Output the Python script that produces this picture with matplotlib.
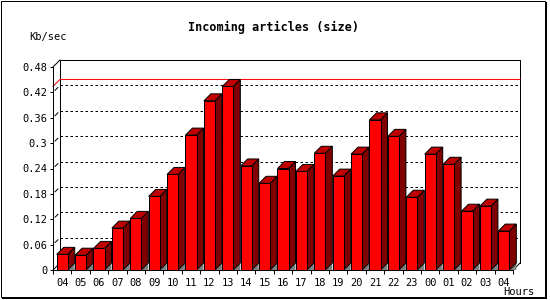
import numpy as np
import matplotlib
matplotlib.use("Agg")
import matplotlib.pyplot as plt
from matplotlib.patches import Polygon, Rectangle

# data
hours = ["04", "05", "06", "07", "08", "09", "10", "11", "12", "13", "14", "15",
         "16", "17", "18", "19", "20", "21", "22", "23", "00", "01", "02", "03", "04"]
kb_sec = [0.037, 0.035, 0.051, 0.099, 0.122, 0.174, 0.226, 0.319, 0.400, 0.434,
          0.246, 0.205, 0.240, 0.233, 0.276, 0.222, 0.274, 0.355, 0.316, 0.172,
          0.274, 0.250, 0.139, 0.151, 0.092]
y_ticks = [0, 0.06, 0.12, 0.18, 0.24, 0.30, 0.36, 0.42, 0.48]
y_tick_labels = ["0", "0.06", "0.12", "0.18", "0.24", "0.3", "0.36", "0.42", "0.48"]

W, H = 550, 300
px = 0.72  # one pixel in points at 100 dpi
mono = "DejaVu Sans Mono"
plt.rcParams["font.family"] = [mono]

fig = plt.figure(figsize=(5.5, 3), dpi=100)

# outer frame with a drop shadow
fig.patches.append(Rectangle((2 / W, 1 / H), 545 / W, 297 / H, transform=fig.transFigure,
                             facecolor="black", edgecolor="none", zorder=-2))
fig.patches.append(Rectangle((0.5 / W, 3.5 / H), 544 / W, 296 / H, transform=fig.transFigure,
                             facecolor="white", edgecolor="black", lw=px, zorder=-1))

ax = fig.add_axes([53 / W, 30 / H, 460 / W, 203 / H])
ax.set_zorder(2)
ax.patch.set_alpha(0)
n = len(hours)
x0, x1 = -0.5, n - 0.5
ymax = y_ticks[-1]
ax.set_xlim(x0, x1)
ax.set_ylim(0, ymax)

# 3d depth: 7 px right and up, in data units
dx = 7 / 460 * n
dy = 7 / 203 * ymax

# back wall
ax.plot([x0 + dx, x0 + dx, x1 + dx, x1 + dx], [dy, ymax + dy, ymax + dy, dy],
        color="black", lw=px, clip_on=False, zorder=1)
ax.plot([x0, x0 + dx], [ymax, ymax + dy], color="black", lw=px, clip_on=False, zorder=1)
ax.plot([x1, x1 + dx], [0, dy], color="black", lw=px, clip_on=False, zorder=1)
ax.plot([x0, x0 + dx], [0, dy], color="black", lw=px, clip_on=False, zorder=1)
for v in y_ticks[1:-1]:
    ax.plot([x0 + dx, x1 + dx], [v + dy, v + dy], color="black", lw=px,
            dashes=(2.5, 2.5), clip_on=False, zorder=1)
    ax.plot([x0 + dx * 0.3, x0 + dx * 0.7], [v + dy * 0.3, v + dy * 0.7],
            color="black", lw=px, clip_on=False, zorder=1)

# max line
peak = max(kb_sec)
ax.plot([x0, x0 + dx, x1 + dx], [peak, peak + dy, peak + dy], color="red", lw=px,
        clip_on=False, zorder=1.5)

# bars
bw = 0.6
xs = np.arange(n)
for i, v in zip(xs, kb_sec):
    r = i + bw / 2
    l = i - bw / 2
    ax.add_patch(Polygon([(r, 0), (r + dx, dy), (r + dx, 0)], closed=True,
                         facecolor="#808080", edgecolor="none", zorder=2, clip_on=False))
    ax.add_patch(Polygon([(r, 0), (r + dx, dy), (r + dx, v + dy), (r, v)], closed=True,
                         facecolor="#800000", edgecolor="black", lw=px, zorder=2, clip_on=False))
    ax.add_patch(Polygon([(l, v), (l + dx, v + dy), (r + dx, v + dy), (r, v)], closed=True,
                         facecolor="#c00000", edgecolor="black", lw=px, zorder=2, clip_on=False))
ax.bar(xs, kb_sec, width=bw, color="#ff0000", edgecolor="black", lw=px, zorder=3)

# axes
for s in ["top", "right"]:
    ax.spines[s].set_visible(False)
for s in ["left", "bottom"]:
    ax.spines[s].set_linewidth(px)
    ax.spines[s].set_zorder(4)
ax.set_yticks(y_ticks, y_tick_labels)
ax.set_xticks(xs, hours)
ax.set_xticks(np.arange(x0, x1 + 0.01, 1), minor=True)
ax.tick_params(axis="y", length=3 * px, width=px, pad=2, labelsize=7.5)
ax.tick_params(axis="x", which="major", length=0, pad=6, labelsize=7.5)
ax.tick_params(axis="x", which="minor", length=4 * px, width=px)

fig.text(274 / W, 1 - 27 / H, "Incoming articles (size)", ha="center", va="center",
         fontsize=8.5, fontweight="bold", family=mono)
fig.text(29 / W, 1 - 37 / H, "Kb/sec", ha="left", va="center", fontsize=7.5, family=mono)
fig.text(534 / W, 1 - 292 / H, "Hours", ha="right", va="center", fontsize=7.5, family=mono)

fig.savefig("out.png", dpi=100)
